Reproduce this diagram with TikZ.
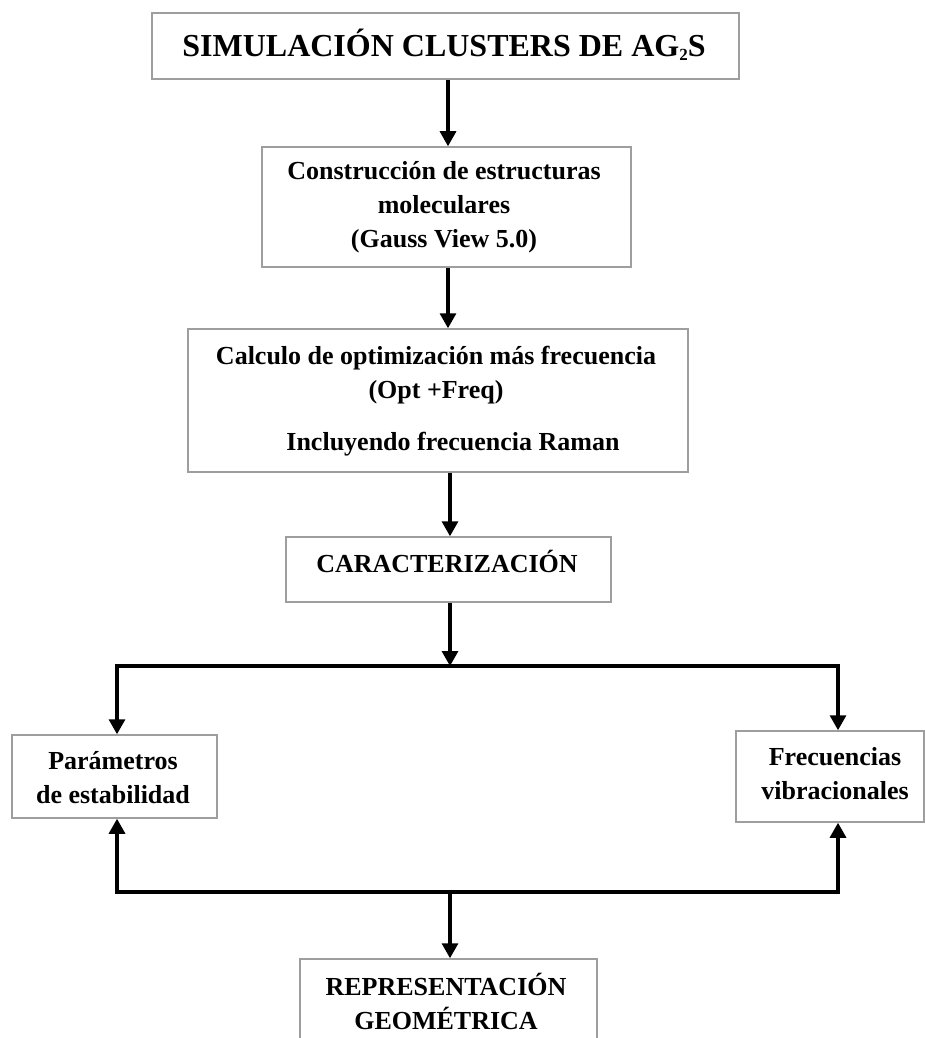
\documentclass[tikz,border=0pt]{standalone}
\usepackage{fontspec}
\setmainfont{Liberation Serif}
\usetikzlibrary{arrows.meta}
\begin{document}
\begin{tikzpicture}[x=1pt,y=-1pt,
  box/.style={draw=black!38, line width=1.5pt, rectangle, inner sep=0pt},
  txt/.style={font=\fontsize{26}{34}\selectfont\bfseries, align=center, inner sep=0pt},
  ttl/.style={font=\fontsize{32}{38}\selectfont\bfseries, align=center, inner sep=0pt},
  arr/.style={line width=3.2pt, -{Triangle[width=16pt,length=15pt]}},
  ]
\useasboundingbox (0,0) rectangle (925,1038);
% boxes
\node[box, minimum width=587pt, minimum height=66pt] (b1) at (445.5,46) {};
\node[box, minimum width=369pt, minimum height=120pt] (b2) at (446.5,207) {};
\node[box, minimum width=500pt, minimum height=143pt] (b3) at (438,400.5) {};
\node[box, minimum width=325pt, minimum height=65pt] (b4) at (448.5,569.5) {};
\node[box, minimum width=205pt, minimum height=83pt] (b5) at (114.5,776.5) {};
\node[box, minimum width=188pt, minimum height=91pt] (b6) at (830,776.5) {};
\node[box, minimum width=297pt, minimum height=121pt] (b7) at (448.5,1019.5) {};
% texts
\node[ttl] (t1) at (444,45) {SIMULACIÓN CLUSTERS DE AG\raisebox{-0.12em}{\fontsize{17}{17}\selectfont 2}S};
\node[txt] (t2) at (444,207) {Construcción de estructuras\\moleculares\\(Gauss View 5.0)};
\node[txt] (t3) at (436,401) {Calculo de optimización más frecuencia\\(Opt +Freq)\\[18pt]\hspace*{34pt}Incluyendo frecuencia Raman};
\node[txt] (t4) at (447,561) {CARACTERIZACIÓN};
\node[txt] (t5) at (113,778) {Parámetros\\de estabilidad};
\node[txt] (t6) at (835,774) {Frecuencias\\vibracionales};
\node[txt] (t7) at (446,1001) {REPRESENTACIÓN\\GEOMÉTRICA};
% connectors
\coordinate (sp) at (448,0);
\coordinate (sq) at (450,0);
\coordinate (xl) at (117,0);
\coordinate (xr) at (838,0);
\coordinate (j1) at (450,666);
\coordinate (j2) at (450,892);
\draw[arr] (b1.south -| sp) -- (b2.north -| sp);
\draw[arr] (b2.south -| sp) -- (b3.north -| sp);
\draw[arr] (b3.south -| sq) -- (b4.north -| sq);
\draw[arr] (b4.south -| sq) -- (j1);
\draw[arr] (j1) -| (b5.north -| xl);
\draw[arr] (j1) -| (b6.north -| xr);
\draw[arr] (j2) -| (b5.south -| xl);
\draw[arr] (j2) -| (b6.south -| xr);
\draw[arr] (j2) -- (b7.north -| sq);
\end{tikzpicture}
\end{document}
